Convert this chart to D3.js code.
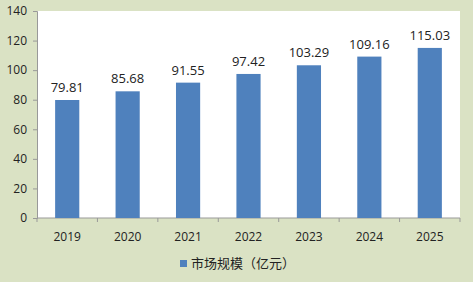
<!DOCTYPE html>
<html>
<head>
<meta charset="utf-8">
<script src="https://cdn.jsdelivr.net/npm/d3@7"></script>
<style>
  body { margin: 0; background: #dae2c4; }
  text { font-family: "Open Sans", "Noto Sans CJK SC", sans-serif; fill: #222; }
</style>
</head>
<body>
<svg id="chart" width="473" height="282"></svg>
<script>
const years = ["2019", "2020", "2021", "2022", "2023", "2024", "2025"];
const marketSize = [79.81, 85.68, 91.55, 97.42, 103.29, 109.16, 115.03];
const yTicks = [0, 20, 40, 60, 80, 100, 120, 140];
const legendLabel = "市场规模（亿元）";

const svg = d3.select("#chart");
const plotL = 37, plotR = 460, plotT = 11, plotB = 218;

svg.append("rect").attr("width", 473).attr("height", 282).attr("fill", "#dae2c4");
svg.append("rect").attr("x", plotL).attr("y", plotT).attr("width", plotR - plotL).attr("height", plotB - plotT).attr("fill", "#fff");

const x = d3.scaleBand().domain(years).range([plotL, plotR]).paddingInner(0.6).paddingOuter(0.3);
const y = d3.scaleLinear().domain([0, 140]).range([plotB, plotT]);

// y axis
const yAxis = svg.append("g").attr("transform", `translate(${plotL},0)`)
  .call(d3.axisLeft(y).tickValues(yTicks).tickSize(4).tickPadding(6));
yAxis.select(".domain").attr("stroke", "#999");
yAxis.selectAll(".tick line").attr("stroke", "#999");
yAxis.selectAll("text").style("font-size", "12px").attr("fill", "#222");

// x axis
const xAxis = svg.append("g").attr("transform", `translate(0,${plotB})`);
xAxis.append("line").attr("x1", plotL).attr("x2", plotR).attr("stroke", "#999");
const step = (plotR - plotL) / years.length;
d3.range(years.length + 1).forEach(i => {
  xAxis.append("line").attr("x1", plotL + i * step).attr("x2", plotL + i * step)
    .attr("y1", 0).attr("y2", 4).attr("stroke", "#999");
});
xAxis.selectAll(".lab").data(years).enter().append("text")
  .attr("x", d => x(d) + x.bandwidth() / 2).attr("y", 23)
  .attr("text-anchor", "middle").style("font-size", "12px").text(d => d);

// bars
svg.selectAll(".bar").data(marketSize).enter().append("rect")
  .attr("x", (d, i) => x(years[i])).attr("width", x.bandwidth())
  .attr("y", d => y(d)).attr("height", d => plotB - y(d))
  .attr("fill", "#4f81bd");

svg.selectAll(".val").data(marketSize).enter().append("text")
  .attr("x", (d, i) => x(years[i]) + x.bandwidth() / 2).attr("y", d => y(d) - 8)
  .attr("text-anchor", "middle").style("font-size", "13px").text(d => d.toFixed(2));

// legend
const lg = svg.append("g").attr("transform", "translate(180,259)");
lg.append("rect").attr("width", 7).attr("height", 7).attr("y", 1).attr("fill", "#4f81bd");
lg.append("text").attr("x", 11).attr("y", 9).style("font-size", "13px").text(legendLabel);
</script>
</body>
</html>
